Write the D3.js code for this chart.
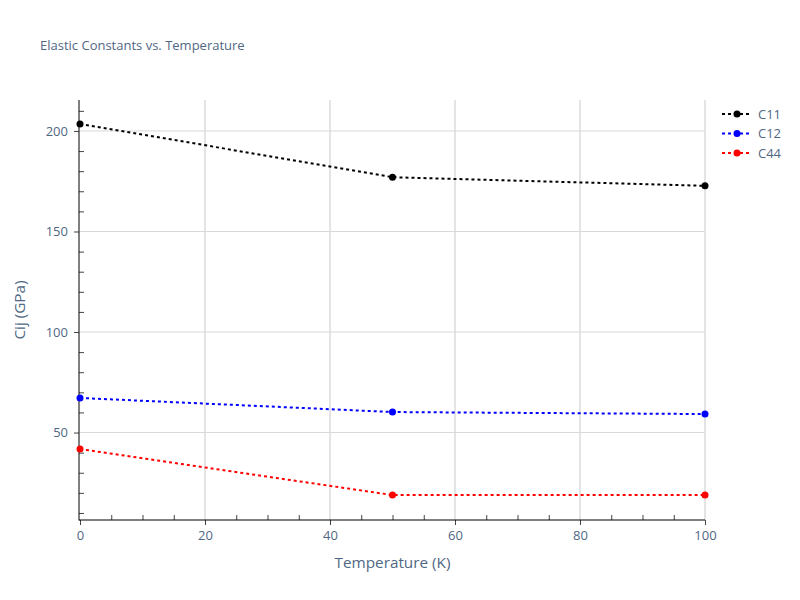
<!DOCTYPE html>
<html><head><meta charset="utf-8">
<script src="https://cdn.jsdelivr.net/npm/d3@7"></script>
<style>body{margin:0;background:#fff}text{font-family:"Open Sans",sans-serif}</style>
</head><body><svg id="c" width="800" height="600"></svg>
<script>
// chart values
var temps = [0, 50, 100];
var c11 = [203.5, 177, 172.7];
var c12 = [67.2, 60.2, 59.2];
var c44 = [41.8, 18.9, 18.9];
var seriesNames = ["C11", "C12", "C44"];
var seriesColors = ["black", "blue", "red"];
var xTicks = [0, 20, 40, 60, 80, 100];
var yTicks = [50, 100, 150, 200];

var svg = d3.select("#c");
var L = 80, R = 705, T = 100, B = 520;
var x = d3.scaleLinear().domain([0, 100]).range([L, R]);
var y = d3.scaleLinear().domain([6.5, 215.4]).range([B, T]);
var axisCol = "#444", textCol = "#506784";

// grid
svg.append("g").selectAll("line").data(xTicks.slice(1)).join("line")
	.attr("x1", d => x(d)).attr("x2", d => x(d)).attr("y1", T).attr("y2", B)
	.attr("stroke", "#e4e4e4").attr("stroke-width", 2);
svg.append("g").selectAll("line").data(yTicks).join("line")
	.attr("x1", L).attr("x2", R).attr("y1", d => y(d)).attr("y2", d => y(d))
	.attr("stroke", "#d8d8d8").attr("stroke-width", 1);

// axes: major ticks outside, minor ticks inside
var gx = svg.append("g").attr("transform", "translate(0," + B + ")")
	.call(d3.axisBottom(x).tickValues(xTicks).tickSize(5).tickPadding(6));
var gxm = svg.append("g").attr("transform", "translate(0," + B + ")")
	.call(d3.axisBottom(x).tickValues(d3.range(5, 100, 5).filter(d => d % 20)).tickSize(-5).tickFormat(""));
var gy = svg.append("g").attr("transform", "translate(" + (L - 1) + ",0)")
	.call(d3.axisLeft(y).tickValues(yTicks).tickSize(5).tickPadding(6));
var gym = svg.append("g").attr("transform", "translate(" + (L - 1) + ",0)")
	.call(d3.axisLeft(y).tickValues(d3.range(10, 215, 10).filter(d => d % 50)).tickSize(-5).tickFormat(""));
[gx, gxm, gy, gym].forEach(function(g){
	g.selectAll(".domain").remove();
	g.selectAll("line").attr("stroke", axisCol);
	g.selectAll("text").attr("fill", textCol).attr("font-size", 13);
});
svg.append("line").attr("x1", L - 1).attr("x2", L - 1).attr("y1", T).attr("y2", B + 0.5).attr("stroke", "black");
svg.append("line").attr("x1", L - 1).attr("x2", R).attr("y1", B).attr("y2", B).attr("stroke", "black");

// series
var data = [c11, c12, c44];
var line = d3.line().x((d, i) => x(temps[i])).y(d => y(d));
data.forEach(function(vals, k){
	var g = svg.append("g");
	g.append("path").attr("d", line(vals)).attr("fill", "none")
		.attr("stroke", seriesColors[k]).attr("stroke-width", 2).attr("stroke-dasharray", "3,3");
	g.selectAll("circle").data(vals).join("circle")
		.attr("cx", (d, i) => x(temps[i])).attr("cy", d => y(d)).attr("r", 3.5).attr("fill", seriesColors[k]);
});

// legend
seriesNames.forEach(function(n, k){
	var ly = 114 + k * 19.5;
	svg.append("line").attr("x1", 722).attr("x2", 752).attr("y1", ly).attr("y2", ly)
		.attr("stroke", seriesColors[k]).attr("stroke-width", 2).attr("stroke-dasharray", "3,3");
	svg.append("circle").attr("cx", 737).attr("cy", ly).attr("r", 3.5).attr("fill", seriesColors[k]);
	svg.append("text").attr("x", 758).attr("y", ly + 4.5).attr("font-size", 13).attr("fill", textCol).text(n);
});

// titles
svg.append("text").attr("x", 40).attr("y", 50).attr("font-size", 13).attr("fill", textCol).text("Elastic Constants vs. Temperature");
svg.append("text").attr("x", (L + R) / 2).attr("y", 568).attr("text-anchor", "middle").attr("font-size", 15.3).attr("fill", textCol).text("Temperature (K)");
svg.append("text").attr("transform", "translate(25," + (T + B) / 2 + ") rotate(-90)").attr("text-anchor", "middle")
	.attr("font-size", 15.3).attr("fill", textCol).text("Cij (GPa)");
</script></body></html>
